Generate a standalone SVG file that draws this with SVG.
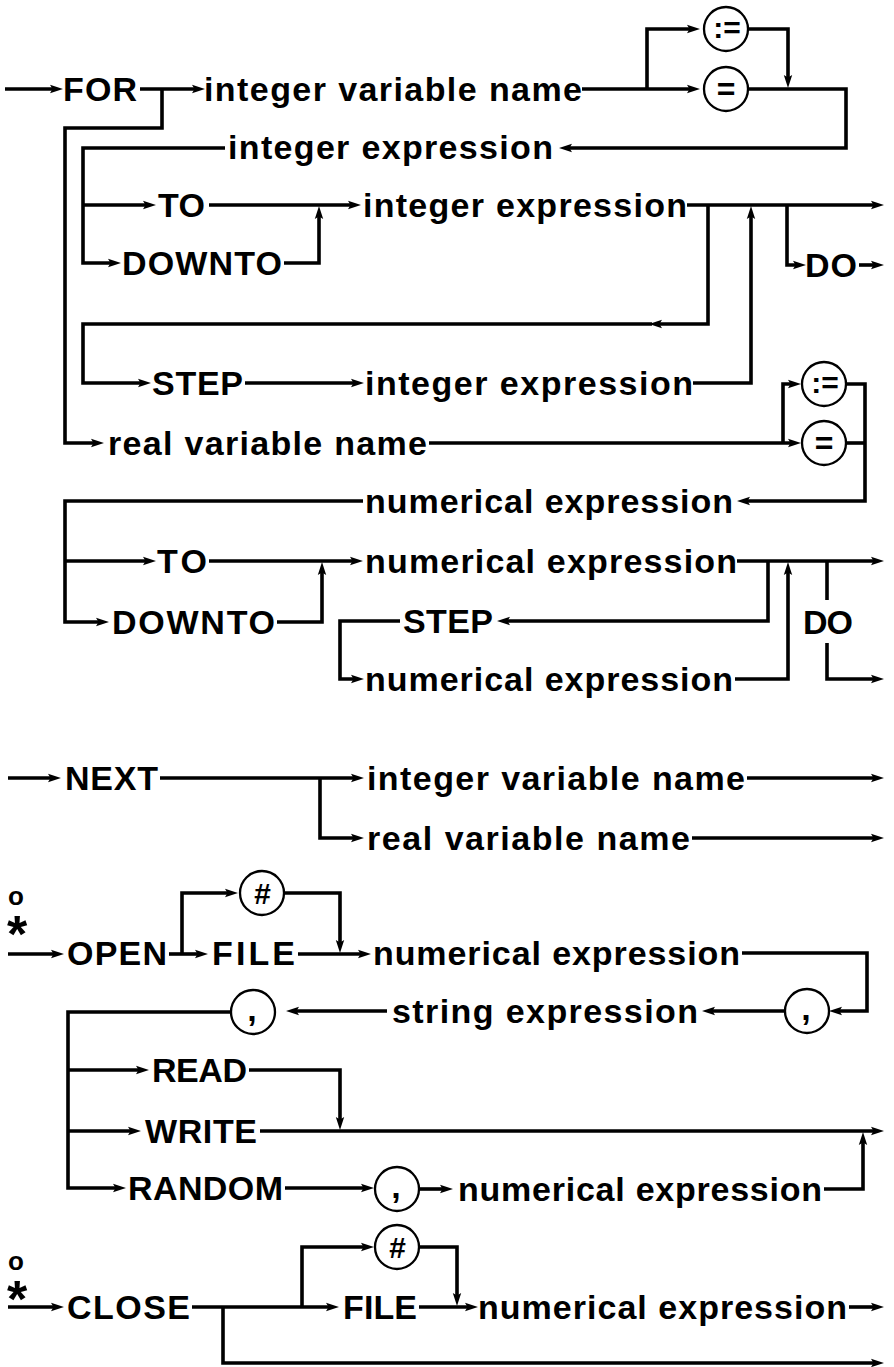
<svg xmlns="http://www.w3.org/2000/svg" width="894" height="1367" viewBox="0 0 894 1367">
<style>
.t{font-family:"Liberation Sans",Arial,Helvetica,sans-serif;font-weight:bold;font-size:34px;fill:#000}
.s{font-family:"Liberation Sans",Arial,Helvetica,sans-serif;font-weight:bold;font-size:32px;fill:#000;text-anchor:middle}
.c{fill:none;stroke:#000;stroke-width:3.6;stroke-linejoin:miter}
.a{marker-end:url(#ah)}
.k{fill:#fff;stroke:#000;stroke-width:2.3}
</style>
<defs>
<marker id="ah" viewBox="0 0 13 10" refX="5" refY="5" markerWidth="13" markerHeight="10" markerUnits="userSpaceOnUse" orient="auto">
<path d="M0,0.8 L13,5 L0,9.2 L2.5,5 Z" fill="#000"/>
</marker>
</defs>
<rect width="894" height="1367" fill="#fff"/>
<g id="connectors">
<path class="c a" d="M5,89 H55"/>
<path class="c a" d="M140,89 H197"/>
<path class="c a" d="M162,89 V128 H65 V443 H96"/>
<path class="c a" d="M582,89 H692"/>
<path class="c a" d="M647,89 V29 H692"/>
<path class="c a" d="M748,29 H788 V80"/>
<path class="c a" d="M748,89 H846 V148 H567"/>
<path class="c a" d="M225,148 H83 V263 H113"/>
<path class="c a" d="M83,205 H148"/>
<path class="c a" d="M209,205 H353"/>
<path class="c a" d="M284,263 H319 V214"/>
<path class="c a" d="M687,205 H876"/>
<path class="c a" d="M708,205 V324 H657"/>
<path class="c a" d="M652,324 H83 V383 H143"/>
<path class="c a" d="M245,383 H356"/>
<path class="c a" d="M693,383 H751 V214"/>
<path class="c a" d="M787,205 V265 H798"/>
<path class="c a" d="M859,265 H876"/>
<path class="c a" d="M429,443 H793"/>
<path class="c a" d="M783,443 V384 H793"/>
<path class="c a" d="M846,384 H865 V501 H745"/>
<path class="c" d="M846,443 H865"/>
<path class="c a" d="M363,501 H65 V622 H101"/>
<path class="c a" d="M65,561 H148"/>
<path class="c a" d="M209,561 H355"/>
<path class="c a" d="M277,622 H322 V570"/>
<path class="c a" d="M737,561 H876"/>
<path class="c a" d="M768,561 V621 H505"/>
<path class="c a" d="M400,621 H340 V679 H356"/>
<path class="c a" d="M735,679 H788 V570"/>
<path class="c" d="M827,561 V600"/>
<path class="c a" d="M827,643 V679 H876"/>
<path class="c a" d="M8,778 H53"/>
<path class="c a" d="M160,778 H356"/>
<path class="c a" d="M320,778 V838 H356"/>
<path class="c a" d="M747,778 H876"/>
<path class="c a" d="M692,838 H876"/>
<path class="c a" d="M8,954 H56"/>
<path class="c a" d="M169,954 H200"/>
<path class="c a" d="M182,954 V893 H230"/>
<path class="c a" d="M284,893 H340 V945"/>
<path class="c a" d="M298,954 H363"/>
<path class="c a" d="M742,953 H867 V1011 H837"/>
<path class="c a" d="M785,1011 H710"/>
<path class="c a" d="M387,1011 H294"/>
<path class="c a" d="M231,1012 H68 V1188 H118"/>
<path class="c a" d="M68,1070 H141"/>
<path class="c a" d="M249,1070 H340 V1122"/>
<path class="c a" d="M68,1131 H133"/>
<path class="c a" d="M260,1131 H876"/>
<path class="c a" d="M285,1188 H366"/>
<path class="c a" d="M419,1189 H445"/>
<path class="c a" d="M824,1189 H863 V1140"/>
<path class="c a" d="M8,1307 H56"/>
<path class="c a" d="M192,1307 H331"/>
<path class="c a" d="M302,1307 V1247 H366"/>
<path class="c a" d="M419,1247 H457 V1298"/>
<path class="c a" d="M419,1307 H470"/>
<path class="c a" d="M849,1307 H876"/>
<path class="c a" d="M223,1307 V1363 H876"/>
</g>
<g id="for"><text class="t" x="63" y="101" textLength="74" lengthAdjust="spacing">FOR</text></g>
<g id="intvar1"><text class="t" x="204" y="101" textLength="378" lengthAdjust="spacing">integer variable name</text></g>
<g id="assign1"><circle class="k" cx="726" cy="29" r="22"/><text class="s" x="727" y="38" style="font-size:30px">:=</text></g>
<g id="eq1"><circle class="k" cx="726" cy="89" r="22"/><text class="s" x="726" y="100">=</text></g>
<g id="intexp1"><text class="t" x="228" y="159" textLength="325" lengthAdjust="spacing">integer expression</text></g>
<g id="to1"><text class="t" x="158" y="217" textLength="47" lengthAdjust="spacing">TO</text></g>
<g id="downto1"><text class="t" x="122" y="275" textLength="160" lengthAdjust="spacing">DOWNTO</text></g>
<g id="intexp2"><text class="t" x="363" y="217" textLength="324" lengthAdjust="spacing">integer expression</text></g>
<g id="do1"><text class="t" x="805" y="277" textLength="52" lengthAdjust="spacing">DO</text></g>
<g id="step1"><text class="t" x="152" y="395" textLength="91" lengthAdjust="spacing">STEP</text></g>
<g id="intexp3"><text class="t" x="365" y="395" textLength="328" lengthAdjust="spacing">integer expression</text></g>
<g id="realvar1"><text class="t" x="108" y="455" textLength="319" lengthAdjust="spacing">real variable name</text></g>
<g id="assign2"><circle class="k" cx="824" cy="384" r="22"/><text class="s" x="825" y="393" style="font-size:30px">:=</text></g>
<g id="eq2"><circle class="k" cx="824" cy="443" r="22"/><text class="s" x="824" y="454">=</text></g>
<g id="numexp1"><text class="t" x="365" y="513" textLength="368" lengthAdjust="spacing">numerical expression</text></g>
<g id="to2"><text class="t" x="157" y="573" textLength="50" lengthAdjust="spacing">TO</text></g>
<g id="numexp2"><text class="t" x="365" y="573" textLength="372" lengthAdjust="spacing">numerical expression</text></g>
<g id="downto2"><text class="t" x="112" y="634" textLength="163" lengthAdjust="spacing">DOWNTO</text></g>
<g id="step2"><text class="t" x="403" y="633" textLength="90" lengthAdjust="spacing">STEP</text></g>
<g id="numexp3"><text class="t" x="365" y="691" textLength="368" lengthAdjust="spacing">numerical expression</text></g>
<g id="do2"><text class="t" x="803" y="634" textLength="50" lengthAdjust="spacing">DO</text></g>
<g id="next"><text class="t" x="65" y="790" textLength="93" lengthAdjust="spacing">NEXT</text></g>
<g id="intvar2"><text class="t" x="367" y="790" textLength="378" lengthAdjust="spacing">integer variable name</text></g>
<g id="realvar2"><text class="t" x="367" y="850" textLength="323" lengthAdjust="spacing">real variable name</text></g>
<g id="mark1"><text class="s"><tspan x="16" y="905" style="font-size:26px">o</tspan><tspan x="17" y="952" style="font-size:52px">*</tspan></text></g>
<g id="open"><text class="t" x="67" y="965" textLength="100" lengthAdjust="spacing">OPEN</text></g>
<g id="hash1"><circle class="k" cx="262" cy="893" r="22"/><text class="s" x="262" y="904" style="font-style:italic;font-size:30px">#</text></g>
<g id="file1"><text class="t" x="212" y="965" textLength="83" lengthAdjust="spacing">FILE</text></g>
<g id="numexp4"><text class="t" x="373" y="965" textLength="367" lengthAdjust="spacing">numerical expression</text></g>
<g id="comma1"><circle class="k" cx="807" cy="1011" r="22"/><text class="s" x="806" y="1020" style="font-size:34px">,</text></g>
<g id="strexp"><text class="t" x="392" y="1023" textLength="306" lengthAdjust="spacing">string expression</text></g>
<g id="comma2"><circle class="k" cx="253" cy="1012" r="22"/><text class="s" x="252" y="1021" style="font-size:34px">,</text></g>
<g id="read"><text class="t" x="152" y="1082" textLength="95" lengthAdjust="spacing">READ</text></g>
<g id="write"><text class="t" x="145" y="1143" textLength="112" lengthAdjust="spacing">WRITE</text></g>
<g id="random"><text class="t" x="128" y="1200" textLength="155" lengthAdjust="spacing">RANDOM</text></g>
<g id="comma3"><circle class="k" cx="397" cy="1189" r="22"/><text class="s" x="396" y="1198" style="font-size:34px">,</text></g>
<g id="numexp5"><text class="t" x="458" y="1201" textLength="364" lengthAdjust="spacing">numerical expression</text></g>
<g id="mark2"><text class="s"><tspan x="16" y="1270" style="font-size:26px">o</tspan><tspan x="17" y="1317" style="font-size:52px">*</tspan></text></g>
<g id="close"><text class="t" x="67" y="1319" textLength="123" lengthAdjust="spacing">CLOSE</text></g>
<g id="hash2"><circle class="k" cx="397" cy="1247" r="22"/><text class="s" x="397" y="1258" style="font-style:italic;font-size:30px">#</text></g>
<g id="file2"><text class="t" x="343" y="1319" textLength="74" lengthAdjust="spacing">FILE</text></g>
<g id="numexp6"><text class="t" x="478" y="1319" textLength="369" lengthAdjust="spacing">numerical expression</text></g>
</svg>
